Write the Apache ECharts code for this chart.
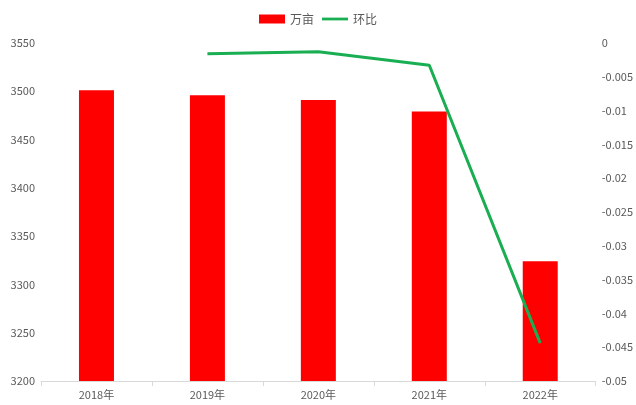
<!DOCTYPE html>
<html>
<head>
<meta charset="utf-8">
<script src="https://cdn.jsdelivr.net/npm/echarts@6/dist/echarts.min.js"></script>
<style>
  html, body { margin: 0; padding: 0; background: #fff; }
  #chart { width: 636px; height: 405px; }
</style>
</head>
<body>
<div id="chart"></div>
<script>
// Yearly area (万亩) and its period-over-period change (环比)
var years = ['2018年', '2019年', '2020年', '2021年', '2022年'];
var area = [3501, 3496, 3491, 3479, 3324];
var change = [null, -0.0016, -0.0013, -0.0033, -0.0444];

var labelColor = '#595959';
var font = '"Microsoft YaHei", "Noto Sans CJK SC", "Noto Sans", sans-serif';

var chart = echarts.init(document.getElementById('chart'));
chart.setOption({
  animation: false,
  textStyle: { fontFamily: font },
  legend: {
    top: 8,
    left: 'center',
    itemGap: 8,
    itemWidth: 26,
    itemHeight: 9,
    textStyle: { color: labelColor, fontSize: 12, fontFamily: font },
    data: [
      { name: '万亩', icon: 'rect' },
      { name: '环比', icon: 'path://M0,0 H28 V3 H0 Z' }
    ]
  },
  grid: { left: 41, right: 35, top: 43, bottom: 24 },
  xAxis: {
    type: 'category',
    data: years,
    axisLine: { onZero: false, lineStyle: { color: '#d9d9d9' } },
    axisTick: { show: true, lineStyle: { color: '#d9d9d9' } },
    axisLabel: { color: labelColor, fontSize: 11, margin: 8 }
  },
  yAxis: [
    {
      type: 'value',
      min: 3200,
      max: 3550,
      interval: 50,
      splitLine: { show: false },
      axisLine: { show: false },
      axisTick: { show: false },
      axisLabel: {
        color: labelColor, fontSize: 11, margin: 6,
        formatter: function (v) { return String(v); }
      }
    },
    {
      type: 'value',
      min: -0.05,
      max: 0,
      interval: 0.005,
      splitLine: { show: false },
      axisLine: { show: false },
      axisTick: { show: false },
      axisLabel: {
        color: labelColor, fontSize: 11, margin: 6,
        formatter: function (v) { return String(parseFloat(v.toFixed(3))); }
      }
    }
  ],
  series: [
    {
      name: '万亩',
      type: 'bar',
      data: area,
      barWidth: 35,
      itemStyle: { color: '#ff0000' }
    },
    {
      name: '环比',
      type: 'line',
      yAxisIndex: 1,
      data: change,
      symbol: 'none',
      lineStyle: { color: '#1aae52', width: 3 },
      itemStyle: { color: '#1aae52' }
    }
  ]
});
</script>
</body>
</html>
